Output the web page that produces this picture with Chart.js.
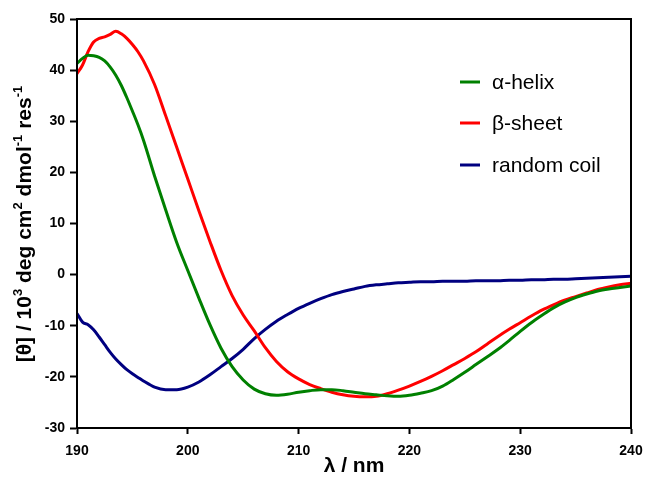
<!DOCTYPE html>
<html>
<head>
<meta charset="utf-8">
<script src="https://cdn.jsdelivr.net/npm/chart.js@4/dist/chart.umd.min.js"></script>
<style>
  html, body { margin: 0; padding: 0; background: #fff; }
  #cd_chart { display: block; }
</style>
</head>
<body>
<canvas id="cd_chart" width="645" height="479"></canvas>
<script>
// длины волн, нм (в начале шаг 0.5)
const wavelengths = [190, 190.5, 191, 191.5, 192, 192.5, 193, 193.5, 194, 194.5, 195, 195.5,
  196, 197, 198, 199,
  200, 201, 202, 203, 204, 205, 206, 207, 208, 209,
  210, 211, 212, 213, 214, 215, 216, 217, 218, 219,
  220, 221, 222, 223, 224, 225, 226, 227, 228, 229,
  230, 231, 232, 233, 234, 235, 236, 237, 238, 239, 240];

const helixValues = [41.3, 42.3, 42.9, 42.8, 42.5, 41.8, 40.6, 39.0, 37.0, 34.6, 32.0, 29.3,
  26.3, 19.3, 12.7, 6.3,
  0.8, -4.6, -9.8, -14.4, -18.0, -20.6, -22.4, -23.3, -23.6, -23.4,
  -23.0, -22.7, -22.5, -22.5, -22.7, -23.0, -23.3, -23.5, -23.7, -23.8,
  -23.6, -23.2, -22.7, -21.8, -20.5, -19.1, -17.6, -16.1, -14.6, -12.9,
  -11.1, -9.4, -7.9, -6.5, -5.4, -4.5, -3.8, -3.2, -2.8, -2.5, -2.2];

const sheetValues = [39.3, 41.0, 43.6, 45.5, 46.2, 46.5, 47.0, 47.6, 47.1, 46.2, 45.0, 43.6,
  41.8, 37.2, 31.1, 24.9,
  18.7, 12.5, 6.5, 0.8, -4.1, -7.9, -11.0, -14.3, -17.0, -19.0,
  -20.4, -21.5, -22.3, -23.0, -23.5, -23.8, -23.9, -23.8, -23.3, -22.6,
  -21.8, -20.9, -19.9, -18.8, -17.6, -16.4, -15.1, -13.6, -12.1, -10.7,
  -9.4, -8.1, -6.9, -5.9, -5.0, -4.3, -3.6, -2.9, -2.4, -2.0, -1.7];

const coilValues = [-7.6, -9.3, -9.8, -10.8, -12.2, -13.7, -15.2, -16.5, -17.6, -18.6, -19.4, -20.1,
  -20.8, -22.0, -22.5, -22.5,
  -22.0, -21.0, -19.6, -18.0, -16.4, -14.6, -12.5, -10.7, -9.1, -7.8,
  -6.6, -5.6, -4.7, -3.9, -3.3, -2.8, -2.3, -2.0, -1.8, -1.6,
  -1.5, -1.4, -1.4, -1.3, -1.3, -1.3, -1.2, -1.2, -1.2, -1.1,
  -1.1, -1.0, -1.0, -0.9, -0.9, -0.8, -0.7, -0.6, -0.5, -0.4, -0.3];

const seriesLabels = ["\u03b1-helix", "\u03b2-sheet", "random coil"];
const seriesColors = ["#008000", "#ff0000", "#000080"];

const xTicks = [190, 200, 210, 220, 230, 240];
const yTicks = [-30, -20, -10, 0, 10, 20, 30, 40, 50];

function toPoints(vals) {
  return wavelengths.map((w, i) => ({ x: w, y: vals[i] }));
}

// рамка вокруг области графика
const frameBox = {
  id: "frameBox",
  afterDatasetsDraw(chart) {
    const { ctx, chartArea: a } = chart;
    ctx.save();
    ctx.strokeStyle = "#000";
    ctx.lineWidth = 2;
    ctx.strokeRect(a.left, a.top, a.right - a.left, a.bottom - a.top);
    ctx.restore();
  }
};

// легенда внутри графика
const innerLegend = {
  id: "innerLegend",
  afterDraw(chart) {
    const { ctx } = chart;
    const rowsY = [82, 123, 165];
    ctx.save();
    ctx.font = "21px 'Liberation Sans', Arial, sans-serif";
    ctx.textBaseline = "middle";
    chart.data.datasets.forEach((ds, i) => {
      ctx.strokeStyle = ds.borderColor;
      ctx.lineWidth = 3;
      ctx.beginPath();
      ctx.moveTo(460, rowsY[i]);
      ctx.lineTo(480, rowsY[i]);
      ctx.stroke();
      ctx.fillStyle = "#000";
      ctx.fillText(ds.label, 492, rowsY[i] + 1);
    });
    ctx.restore();
  }
};

// подпись оси Y со степенями
const yTitle = {
  id: "yTitle",
  afterDraw(chart) {
    const { ctx } = chart;
    const parts = [
      ["[\u03b8] / 10", false], ["3", true], [" deg cm", false], ["2", true],
      [" dmol", false], ["-1", true], [" res", false], ["-1", true]
    ];
    const big = "bold 21px 'Liberation Sans', Arial, sans-serif";
    const small = "bold 13px 'Liberation Sans', Arial, sans-serif";
    ctx.save();
    let total = 0;
    parts.forEach(([t, sup]) => { ctx.font = sup ? small : big; total += ctx.measureText(t).width; });
    ctx.translate(31, 224);
    ctx.rotate(-Math.PI / 2);
    ctx.fillStyle = "#000";
    ctx.textBaseline = "alphabetic";
    let x = -total / 2;
    parts.forEach(([t, sup]) => {
      ctx.font = sup ? small : big;
      ctx.fillText(t, x, sup ? -9 : 0);
      x += ctx.measureText(t).width;
    });
    ctx.restore();
  }
};

const tickFont = { family: "'Liberation Sans', Arial, sans-serif", size: 14, weight: "bold" };

const config = {
  type: "line",
  data: {
    datasets: [helixValues, sheetValues, coilValues].map((vals, i) => ({
      label: seriesLabels[i],
      data: toPoints(vals),
      borderColor: seriesColors[i],
      backgroundColor: seriesColors[i],
      borderWidth: 3,
      pointRadius: 0,
      cubicInterpolationMode: "monotone",
      fill: false
    }))
  },
  options: {
    responsive: false,
    animation: false,
    layout: { padding: { left: 0, right: 14, top: 19, bottom: 0 } },
    plugins: {
      legend: { display: false },
      tooltip: { enabled: false }
    },
    scales: {
      x: {
        type: "linear",
        min: 190,
        max: 240,
        afterBuildTicks: (s) => { s.ticks = xTicks.map(v => ({ value: v })); },
        afterFit: (s) => { s.height = 51; s.paddingLeft = 0; s.paddingRight = 0; },
        grid: { drawOnChartArea: false, tickLength: 6, tickColor: "#000", tickWidth: 2 },
        border: { color: "#000", width: 2 },
        ticks: { color: "#000", font: tickFont, padding: 9, maxRotation: 0 },
        title: {
          display: true,
          text: "\u03bb / nm",
          color: "#000",
          font: { family: "'Liberation Sans', Arial, sans-serif", size: 21, weight: "bold" },
          padding: { top: 0, bottom: 0 }
        }
      },
      y: {
        min: -30,
        max: 50,
        afterBuildTicks: (s) => { s.ticks = yTicks.map(v => ({ value: v })); },
        afterFit: (s) => { s.width = 77; s.paddingTop = 0; s.paddingBottom = 0; },
        grid: { drawOnChartArea: false, tickLength: 7, tickColor: "#000", tickWidth: 2 },
        border: { color: "#000", width: 2 },
        ticks: { color: "#000", font: tickFont, padding: 5 }
      }
    }
  },
  plugins: [frameBox, innerLegend, yTitle]
};

window.addEventListener("load", () => {
  window.cdChart = new Chart(document.getElementById("cd_chart"), config);
});
</script>
</body>
</html>
